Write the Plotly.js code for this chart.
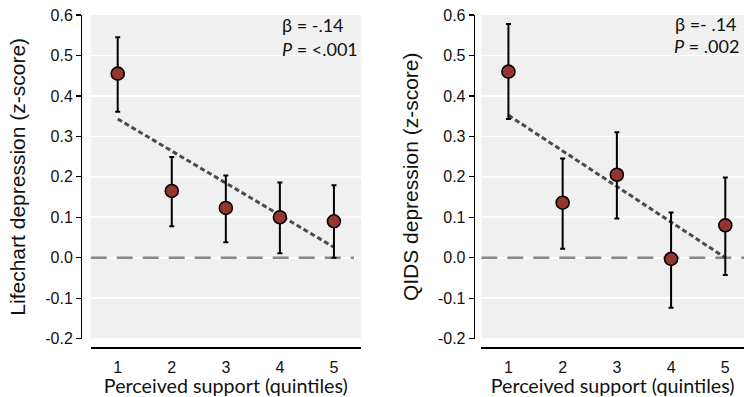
<!DOCTYPE html>
<html><head><meta charset="utf-8">
<script src="https://cdn.plot.ly/plotly-3.0.1.min.js"></script>
<style>html,body{margin:0;padding:0;background:#fff;}#chart{width:744px;height:397px;}</style>
</head><body><div id="chart"></div>
<script>
const quintiles = [1, 2, 3, 4, 5];
const tickLabels = ['1', '2', '3', '4', '5'];
// Lifechart depression
const lifeMean = [0.455, 0.165, 0.123, 0.100, 0.090];
const lifeUpper = [0.545, 0.249, 0.203, 0.186, 0.179];
const lifeLower = [0.361, 0.078, 0.038, 0.011, 0.000];
const lifeFitX = [1, 5];
const lifeFitY = [0.343, 0.026];
// QIDS depression
const qidsMean = [0.460, 0.136, 0.205, -0.003, 0.080];
const qidsUpper = [0.578, 0.245, 0.310, 0.112, 0.198];
const qidsLower = [0.343, 0.022, 0.097, -0.124, -0.043];
const qidsFitX = [1, 5];
const qidsFitY = [0.352, 0.000];
// zero reference lines
const zeroLeftX = [0.5, 5.37];
const zeroRightX = [0.5, 5.35];
const zeroY = [0, 0];

const markerCol = '#943530';
function pts(mean, up, lo, xa, ya) {
  return {
    x: quintiles, y: mean, xaxis: xa, yaxis: ya, type: 'scatter', mode: 'markers',
    marker: {size: 13, color: markerCol, line: {color: '#000', width: 1.6}},
    error_y: {type: 'data', symmetric: false,
      array: mean.map((m, i) => up[i] - m),
      arrayminus: mean.map((m, i) => m - lo[i]),
      color: '#000', thickness: 2, width: 2.5},
    showlegend: false, hoverinfo: 'skip'
  };
}
function fit(x, y, xa, ya) {
  return {x: x, y: y, xaxis: xa, yaxis: ya, type: 'scatter', mode: 'lines',
    line: {color: '#4a4a4a', width: 3, dash: '5px,3px'}, showlegend: false, hoverinfo: 'skip'};
}
function zero(x, xa, ya) {
  return {x: x, y: zeroY, xaxis: xa, yaxis: ya, type: 'scatter', mode: 'lines',
    line: {color: '#888888', width: 2.6, dash: '16px,10px'}, showlegend: false, hoverinfo: 'skip'};
}
const data = [
  zero(zeroLeftX, 'x', 'y'),
  fit(lifeFitX, lifeFitY, 'x', 'y'),
  pts(lifeMean, lifeUpper, lifeLower, 'x', 'y'),
  zero(zeroRightX, 'x2', 'y2'),
  fit(qidsFitX, qidsFitY, 'x2', 'y2'),
  pts(qidsMean, qidsUpper, qidsLower, 'x2', 'y2')
];
const tickFont = {family: 'Liberation Sans, Arial, sans-serif', size: 16, color: '#111'};
const titleFontX = {family: 'Lato, sans-serif', size: 19.7, color: '#111'};
const titleFontY = {family: 'Liberation Sans, Arial, sans-serif', size: 21, color: '#111'};
function xax(domain, range) {
  return {domain: domain, range: range, anchor: 'free', position: 0,
    tickvals: quintiles, ticktext: tickLabels, ticks: '', showgrid: false, zeroline: false,
    showline: true, linecolor: '#000', linewidth: 1.5, tickfont: tickFont, ticklabelstandoff: 5,
    title: {text: 'Perceived support (quintiles)', font: titleFontX, standoff: 0}};
}
function yax(pos, title) {
  return {domain: [0.0253, 1], range: [-0.2, 0.6], anchor: 'free', position: pos,
    tickvals: [-0.2, -0.1, 0, 0.1, 0.2, 0.3, 0.4, 0.5, 0.6],
    ticktext: ['-0.2', '-0.1', '0.0', '0.1', '0.2', '0.3', '0.4', '0.5', '0.6'],
    ticks: 'outside', ticklen: 5, tickwidth: 1.2, tickcolor: '#000',
    showgrid: true, gridcolor: '#ffffff', gridwidth: 1.6, zeroline: false,
    showline: true, linecolor: '#000', linewidth: 1.2, tickfont: tickFont,
    title: {text: title, font: titleFontY, standoff: 12}};
}
const annFont = {family: 'Lato, sans-serif', size: 18, color: '#111'};
const layout = {
  width: 744, height: 397,
  margin: {l: 81, r: 0, t: 15, b: 50},
  paper_bgcolor: '#fff', plot_bgcolor: '#fff',
  xaxis: xax([0.0146, 0.4223], [0.5, 5.5]),
  yaxis: yax(0, 'Lifechart depression (z-score)'),
  xaxis2: xax([0.6038, 1], [0.5, 5.345]),
  yaxis2: yax(0.5923, 'QIDS depression (z-score)'),
  shapes: [
    {type: 'rect', xref: 'x domain', yref: 'y', x0: 0, x1: 1, y0: -0.2, y1: 0.6, fillcolor: '#f0f0f0', line: {width: 0}, layer: 'below'},
    {type: 'rect', xref: 'x2 domain', yref: 'y2', x0: 0, x1: 1, y0: -0.2, y1: 0.6, fillcolor: '#f0f0f0', line: {width: 0}, layer: 'below'}
  ],
  annotations: [
    {xref: 'paper', yref: 'paper', x: (280 - 81) / 663, y: 1 - (25 - 15) / 331.7, xanchor: 'left', yanchor: 'middle', showarrow: false, text: 'β = -.14', font: annFont},
    {xref: 'paper', yref: 'paper', x: (280 - 81) / 663, y: 1 - (49 - 15) / 331.7, xanchor: 'left', yanchor: 'middle', showarrow: false, text: '<i>P</i> = <.001', font: annFont},
    {xref: 'paper', yref: 'paper', x: (673 - 81) / 663, y: 1 - (24 - 15) / 331.7, xanchor: 'left', yanchor: 'middle', showarrow: false, text: 'β =- .14', font: annFont},
    {xref: 'paper', yref: 'paper', x: (672 - 81) / 663, y: 1 - (46 - 15) / 331.7, xanchor: 'left', yanchor: 'middle', showarrow: false, text: '<i>P</i> = .002', font: annFont}
  ]
};
Plotly.newPlot('chart', data, layout, {displayModeBar: false, staticPlot: true});
</script></body></html>
